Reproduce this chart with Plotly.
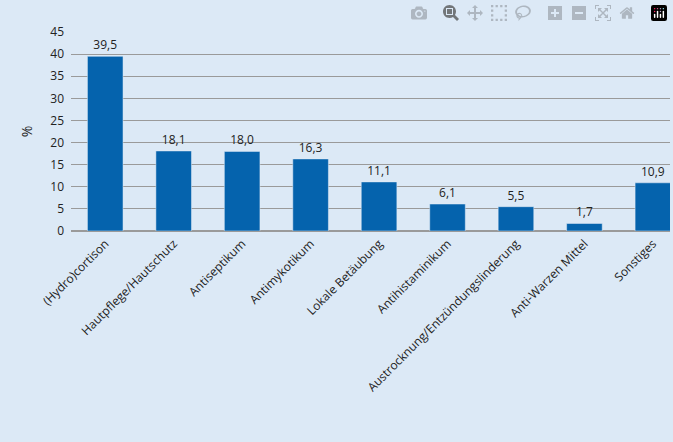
import plotly.graph_objects as go

categories = ["(Hydro)cortison", "Hautpflege/Hautschutz", "Antiseptikum", "Antimykotikum",
              "Lokale Betäubung", "Antihistaminikum", "Austrocknung/Entzündungslinderung",
              "Anti-Warzen Mittel", "Sonstiges"]
values = [39.5, 18.1, 18.0, 16.3, 11.1, 6.1, 5.5, 1.7, 10.9]
labels = [f"{v:.1f}".replace(".", ",") for v in values]

fig = go.Figure(go.Bar(x=categories, y=values, marker_color="#0563ad", width=0.52,
                       text=labels, textposition="outside", cliponaxis=False,
                       textfont=dict(size=12, color="#222")))
fig.update_layout(
    width=673, height=442, paper_bgcolor="#dce9f6", plot_bgcolor="#dce9f6",
    margin=dict(l=71, r=3, t=32, b=211),
    font=dict(family="Open Sans", size=12, color="#222"),
    showlegend=False,
)
fig.update_yaxes(range=[0, 45], dtick=5, gridcolor="#9a9a9a", gridwidth=1,
                 showline=False, zeroline=True, zerolinecolor="#9a9a9a",
                 title=dict(text="%", standoff=14), ticks="", ticklabelstandoff=6)
fig.update_xaxes(range=[-0.5, 8.25], tickangle=-45, showline=True, linecolor="#9a9a9a", ticks="")
fig.write_html("out.html", post_script="document.body.style.margin='0';document.body.style.overflow='hidden';")
